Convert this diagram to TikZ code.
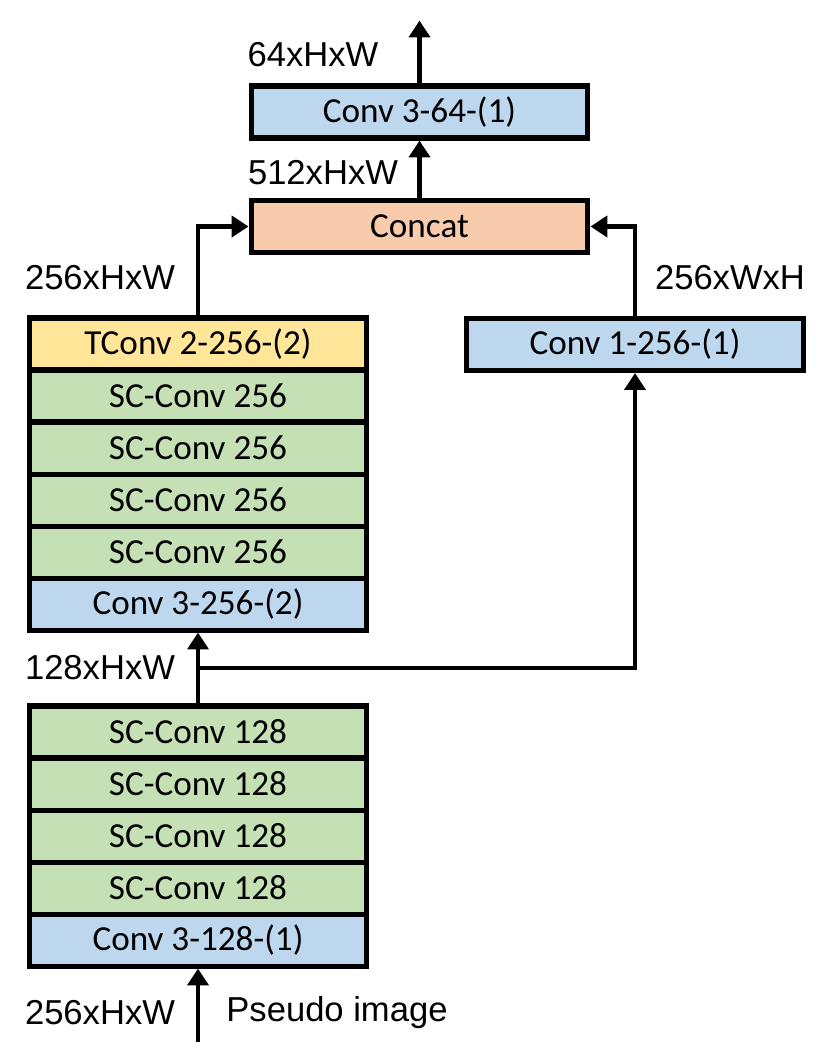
\documentclass[tikz,border=0pt]{standalone}
\usepackage{fontspec}
\setmainfont{Carlito}
\newfontfamily\dimfont{Liberation Sans}
\usetikzlibrary{positioning,arrows.meta}

\definecolor{convblue}{HTML}{BDD7EE}
\definecolor{catsalmon}{HTML}{F8CBAD}
\definecolor{tconvyellow}{HTML}{FFE699}
\definecolor{scgreen}{HTML}{C5E0B4}

\begin{document}
\begin{tikzpicture}[x=0.025cm, y=-0.025cm,
  layer/.style={draw, line width=3.6pt, outer sep=0pt, minimum width=8.42cm,
    minimum height=1.3cm, inner sep=0pt, font=\fontsize{25}{29}\selectfont},
  conv/.style={layer, fill=convblue},
  sconv/.style={layer, fill=scgreen},
  tconv/.style={layer, fill=tconvyellow},
  cat/.style={layer, fill=catsalmon},
  dim/.style={font=\dimfont\fontsize{24.6}{29}\selectfont},
  arr/.style={line width=3pt, -{Triangle[length=0.42cm, width=0.52cm]}, shorten >=1.8pt}]

% Page size
\useasboundingbox (0,0) rectangle (830,1055);

% Head
\node[conv] (head) at (419.5,112) {Conv 3-64-(1)};
\node[cat] (concat) at (419.5,226.5) {Concat};
\coordinate (out) at (419.5,18);

% Side branch
\node[conv] (side) at (635,344.5) {Conv 1-256-(1)};

% Upper stack
\node[tconv] (up) at (198,344) {TConv 2-256-(2)};
\node[sconv, below=0pt of up] (sca) {SC-Conv 256};
\node[sconv, below=0pt of sca] (scb) {SC-Conv 256};
\node[sconv, below=0pt of scb] (scc) {SC-Conv 256};
\node[sconv, below=0pt of scc] (scd) {SC-Conv 256};
\node[conv, below=0pt of scd] (downb) {Conv 3-256-(2)};

% Lower stack
\node[sconv] (sce) at (198,732) {SC-Conv 128};
\node[sconv, below=0pt of sce] (scf) {SC-Conv 128};
\node[sconv, below=0pt of scf] (scg) {SC-Conv 128};
\node[sconv, below=0pt of scg] (sch) {SC-Conv 128};
\node[conv, below=0pt of sch] (downa) {Conv 3-128-(1)};

\coordinate (in) at (198,1042);
\coordinate (split) at (198,668);

% Connections
\draw[arr] (in) -- (downa.south);
\draw[arr] (sce.north) -- (downb.south);
\draw[arr, shorten <=-1.5pt] (split) -| (side.south);
\draw[arr] (up.north) |- (concat.west);
\draw[arr] (side.north) |- (concat.east);
\draw[arr] (concat.north) -- (head.south);
\draw[arr] (head.north) -- (out);

% Labels
\node[dim] (l64) at (313,55) {64xHxW};
\node[dim] (l512) at (323,173) {512xHxW};
\node[dim] (l256a) at (100,278) {256xHxW};
\node[dim] (l256b) at (730,278) {256xWxH};
\node[dim] (l128) at (100,668) {128xHxW};
\node[dim] (lin) at (100,1013) {256xHxW};
\node[dim] (lps) at (337,1013) {Pseudo image};

\end{tikzpicture}
\end{document}
